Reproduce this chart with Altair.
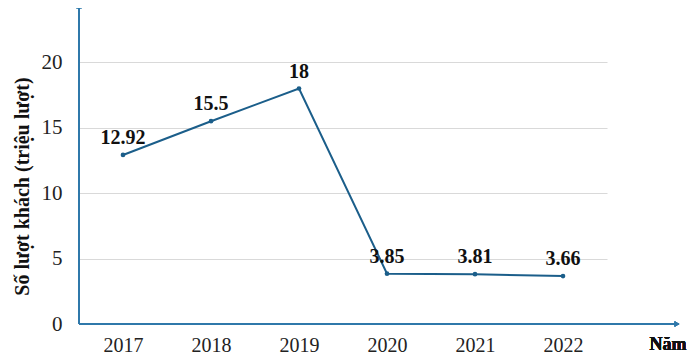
import altair as alt
import pandas as pd

years = [2017, 2018, 2019, 2020, 2021, 2022]
values = [12.92, 15.5, 18, 3.85, 3.81, 3.66]
labels = ["12.92", "15.5", "18", "3.85", "3.81", "3.66"]

df = pd.DataFrame({"year": years, "value": values, "label": labels})

FONT = "Liberation Serif"
LINE = "#1b5e8a"
AXIS = "#2f78aa"

x = alt.X("year:Q", scale=alt.Scale(domain=[2016.5, 2022.5], nice=False, zero=False),
          axis=alt.Axis(values=years, format="d", title=None, grid=False, domain=False,
                        ticks=False, labelPadding=11, labelFontSize=20, labelFont=FONT,
                        labelColor="#222222"))
y = alt.Y("value:Q", scale=alt.Scale(domain=[0, 24], nice=False),
          axis=alt.Axis(values=[0, 5, 10, 15, 20], title="Số lượt khách (triệu lượt)",
                        grid=True, gridColor="#d9d9d9", gridWidth=1.2, domain=False, ticks=False,
                        labelPadding=17, labelFontSize=21, labelFont=FONT, labelColor="#222222",
                        titleFont=FONT, titleFontSize=20, titleFontWeight="bold",
                        titleColor="#111111", titleX=-57, titleY=176,
                        titleAlign="center", titleBaseline="middle"))

line = alt.Chart(df).mark_line(color=LINE, strokeWidth=2).encode(x=x, y=y)
pts = alt.Chart(df).mark_point(filled=True, color=LINE, size=22, opacity=1).encode(x=x, y=y)
txt = alt.Chart(df).mark_text(font=FONT, fontSize=20, fontWeight="bold", color="#111111",
                              baseline="bottom", dy=-7).encode(x=x, y=y, text="label:N")

yaxis = alt.Chart(df).mark_rule(color=AXIS, strokeWidth=2, clip=False).encode(
    x=alt.value(0), y=alt.value(-4), y2=alt.value(314))
xaxis = alt.Chart(df).mark_rule(color=AXIS, strokeWidth=2, clip=False).encode(
    x=alt.value(0), x2=alt.value(596), y=alt.value(314))
uparrow = alt.Chart(df).mark_point(shape="triangle-up", filled=True, color=AXIS, size=30,
                                   opacity=1, clip=False).encode(x=alt.value(0), y=alt.value(-4))
rarrow = alt.Chart(df).mark_point(shape="triangle-right", filled=True, color=AXIS, size=30,
                                  opacity=1, clip=False).encode(x=alt.value(598), y=alt.value(314))
nam = alt.Chart(df).mark_text(font=FONT, fontSize=18, fontWeight="bold", color="#111111",
                              align="center", baseline="middle", clip=False).encode(
    x=alt.value(589), y=alt.value(335), text=alt.value("Năm"))

chart = alt.layer(line, pts, txt, yaxis, xaxis, uparrow, rarrow, nam).properties(
    width=528, height=314,
    autosize=alt.AutoSizeParams(type="none"),
    padding={"left": 71, "top": 2, "right": 85, "bottom": 31},
    background="white",
).configure_view(stroke=None)

chart.save("out.html", embed_options={"renderer": "svg", "actions": False})
